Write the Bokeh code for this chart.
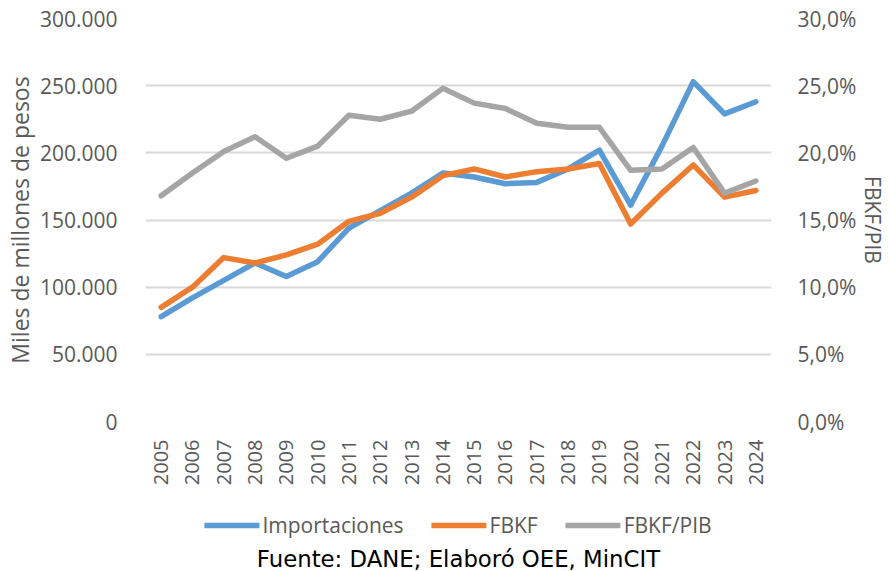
import math
from bokeh.plotting import figure
from bokeh.layouts import column
from bokeh.models import (LinearAxis, Range1d, FixedTicker, CustomJSTickFormatter,
                          Legend, LegendItem, Title)
from bokeh.embed import file_html
from bokeh.resources import INLINE

years = list(range(2005, 2025))
importaciones = [78000, 92000, 105000, 118000, 108000, 119000, 144000, 157000, 170000, 185000,
                 182000, 177000, 178000, 188000, 202000, 161000, 205000, 253000, 229000, 238000]
fbkf = [85000, 100000, 122000, 118000, 124000, 132000, 149000, 155000, 167000, 183000,
        188000, 182000, 186000, 188000, 192000, 147000, 170000, 191000, 167000, 172000]
fbkf_pib = [16.8, 18.5, 20.1, 21.2, 19.6, 20.5, 22.8, 22.5, 23.1, 24.8,
            23.7, 23.3, 22.2, 21.9, 21.9, 18.7, 18.8, 20.4, 17.0, 17.9]
left_ticks = [0, 50000, 100000, 150000, 200000, 250000, 300000]
right_ticks = [0, 5, 10, 15, 20, 25, 30]
series_names = ["Importaciones", "FBKF", "FBKF/PIB"]
series_colors = ["#5B9BD5", "#ED7D31", "#A5A5A5"]

GRAY_TXT = "#595959"
TICK_FONT = "Open Sans"
LW = 5.5

p = figure(width=890, height=500, output_backend="svg", toolbar_location=None,
           x_range=Range1d(2004.5, 2024.5), y_range=Range1d(0, 300000),
           min_border_left=145, min_border_right=115, min_border_top=18, min_border_bottom=79)
p.outline_line_color = None
p.extra_y_ranges = {"pct": Range1d(0, 30)}

p.line(years, importaciones, line_color=series_colors[0], line_width=LW, line_join="round", line_cap="round")
p.line(years, fbkf, line_color=series_colors[1], line_width=LW, line_join="round", line_cap="round")
p.line(years, fbkf_pib, line_color=series_colors[2], line_width=LW, line_join="round", line_cap="round",
       y_range_name="pct")

# left axis
ya = p.yaxis[0]
ya.ticker = FixedTicker(ticks=left_ticks)
ya.formatter = CustomJSTickFormatter(code="""
return tick.toFixed(0).replace(/\\B(?=(\\d{3})+(?!\\d))/g, ".");
""")
ya.axis_label = "Miles de millones de pesos"

# right axis
ra = LinearAxis(y_range_name="pct", ticker=FixedTicker(ticks=right_ticks))
ra.formatter = CustomJSTickFormatter(code="""
return tick.toFixed(1).replace(".", ",") + "%";
""")
ra.axis_label = "FBKF/PIB"
p.add_layout(ra, "right")

for ax in (ya, ra):
    ax.axis_line_color = None
    ax.major_tick_line_color = None
    ax.minor_tick_line_color = None
    ax.major_label_text_font = TICK_FONT
    ax.major_label_text_font_size = "21px"
    ax.major_label_text_color = GRAY_TXT
    ax.axis_label_text_font = TICK_FONT
    ax.axis_label_text_font_style = "normal"
    ax.axis_label_text_color = GRAY_TXT
ya.major_label_standoff = 22
ya.axis_label_standoff = 1
ya.axis_label_text_font_size = "23px"
ra.major_label_standoff = 20
ra.axis_label_standoff = 0
ra.axis_label_text_font_size = "21px"

xa = p.xaxis[0]
xa.ticker = FixedTicker(ticks=years)
xa.formatter = CustomJSTickFormatter(code="return tick.toFixed(0);")
xa.major_label_orientation = math.pi / 2
xa.axis_line_color = None
xa.major_tick_line_color = None
xa.minor_tick_line_color = None
xa.major_label_text_font = TICK_FONT
xa.major_label_text_font_size = "20px"
xa.major_label_text_color = GRAY_TXT
xa.major_label_standoff = 12

p.xgrid.grid_line_color = None
p.ygrid.grid_line_color = "#D9D9D9"
p.ygrid.grid_line_width = 2
p.ygrid.ticker = FixedTicker(ticks=left_ticks)

# legend + source strip
p2 = figure(width=890, height=71, output_backend="svg", toolbar_location=None,
            x_axis_type=None, y_axis_type=None, x_range=Range1d(0, 1), y_range=Range1d(0, 1),
            min_border_left=6, min_border_right=0, min_border_top=0, min_border_bottom=0)
p2.outline_line_color = None
p2.xgrid.grid_line_color = None
p2.ygrid.grid_line_color = None
items = []
for name, col in zip(series_names, series_colors):
    r = p2.line([float("nan")], [float("nan")], line_color=col, line_width=LW, line_cap="round")
    items.append(LegendItem(label=name, renderers=[r]))

legend = Legend(items=items, orientation="horizontal", location="top_center",
                label_text_font=TICK_FONT, label_text_font_size="21px",
                label_text_color=GRAY_TXT, glyph_width=55, glyph_height=20,
                label_standoff=3, spacing=28, padding=2, margin=11,
                border_line_color=None, background_fill_alpha=0)
p2.add_layout(legend, "center")

src = Title(text="Fuente: DANE; Elaboró OEE, MinCIT", align="center",
            text_font="DejaVu Sans", text_font_size="22.8px", text_font_style="normal",
            text_color="black", standoff=0, offset=-12)
p2.add_layout(src, "below")

layout = column(p, p2, spacing=0)
open("out.html", "w").write(file_html(layout, INLINE))
